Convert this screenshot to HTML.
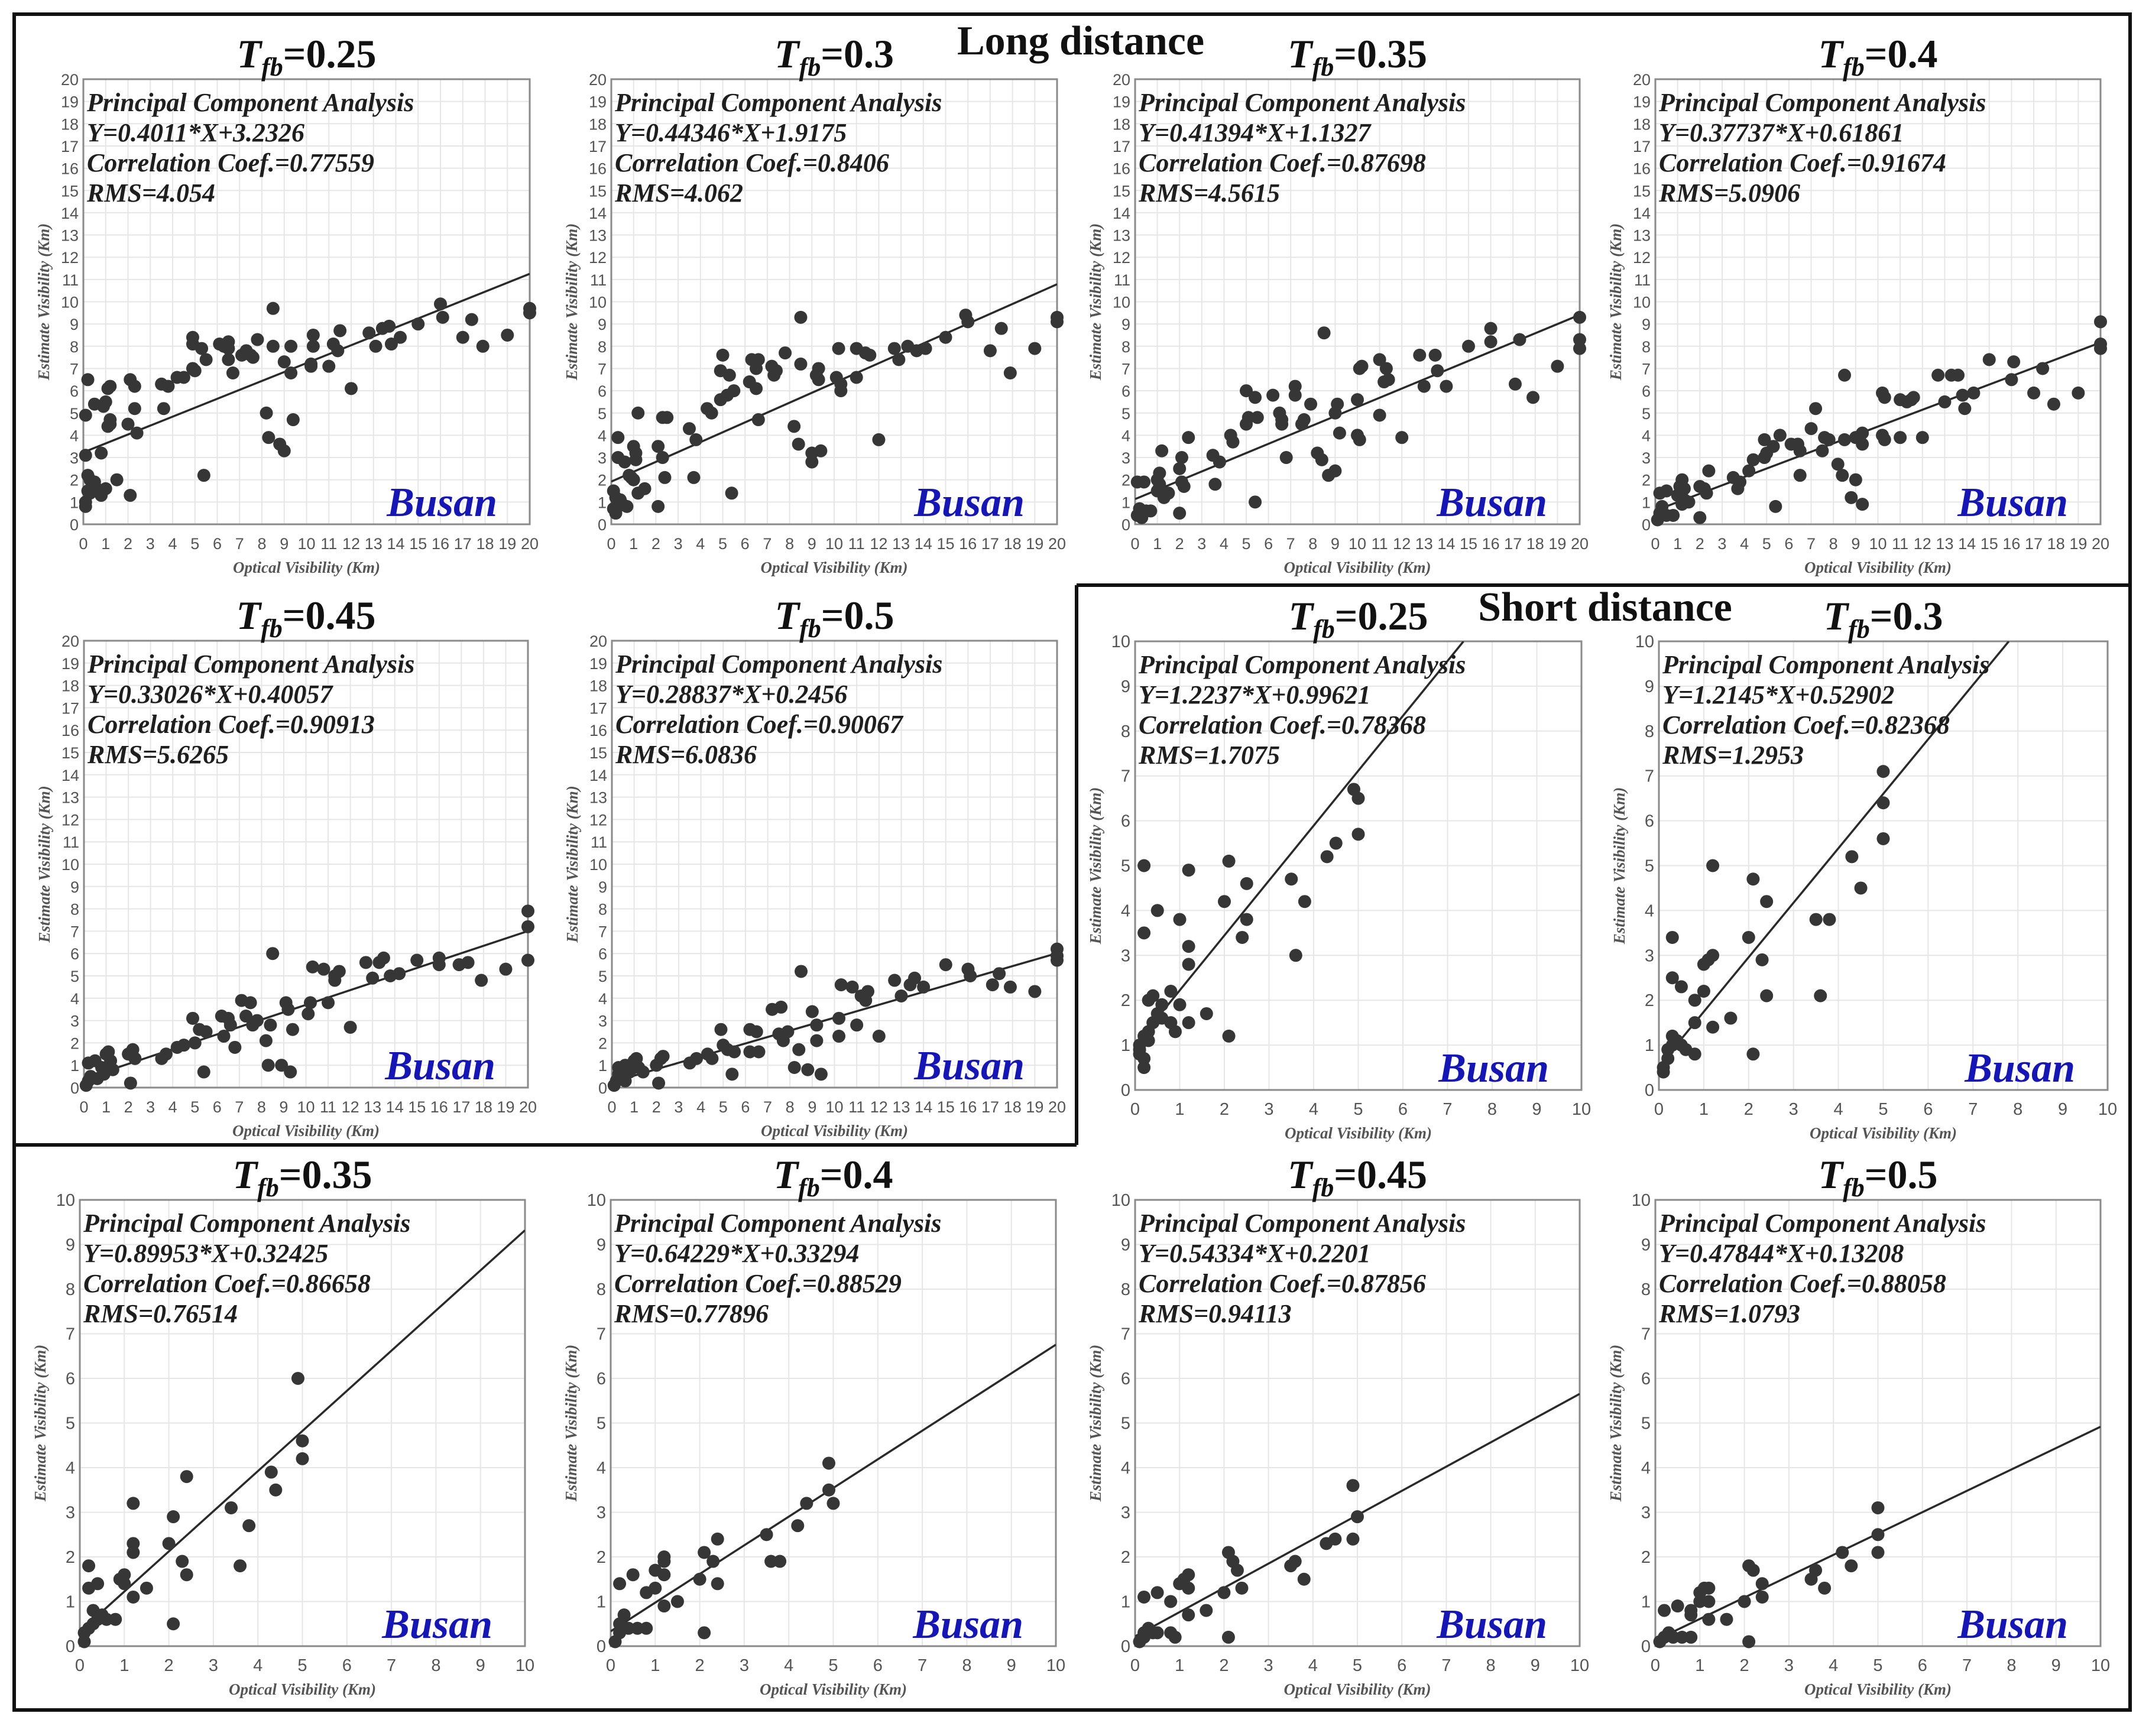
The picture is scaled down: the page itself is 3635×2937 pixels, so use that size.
<!DOCTYPE html>
<html><head><meta charset="utf-8"><title>Busan visibility PCA</title>
<style>html,body{margin:0;padding:0;background:#fff}svg{display:block}</style></head>
<body>
<svg id="fig" xmlns="http://www.w3.org/2000/svg" width="3635" height="2937" viewBox="0 0 3635 2937">
<rect x="0" y="0" width="3635" height="2937" fill="#fff"/>
<g id="frames" stroke="#111" stroke-width="6" fill="none">
<rect x="24" y="24" width="3579" height="2869"/>
<path d="M1821,990 L3603,990 M1821,990 L1821,1937 M24,1937 L1821,1937"/>
</g>
<text x="1828" y="92" text-anchor="middle" font-family="Liberation Serif, serif" font-weight="bold" font-size="70" fill="#111">Long distance</text>
<text x="2715" y="1050" text-anchor="middle" font-family="Liberation Serif, serif" font-weight="bold" font-size="70" fill="#111">Short distance</text>
<g id="panels"></g>
</svg>
<script>
// ---- data ----
const titlesTfb = ["0.25","0.3","0.35","0.4","0.45","0.5","0.25","0.3","0.35","0.4","0.45","0.5"];
const slopes = [0.4011,0.44346,0.41394,0.37737,0.33026,0.28837,1.2237,1.2145,0.89953,0.64229,0.54334,0.47844];
const intercepts = [3.2326,1.9175,1.1327,0.61861,0.40057,0.2456,0.99621,0.52902,0.32425,0.33294,0.2201,0.13208];
const eqTexts = ["Y=0.4011*X+3.2326","Y=0.44346*X+1.9175","Y=0.41394*X+1.1327","Y=0.37737*X+0.61861","Y=0.33026*X+0.40057","Y=0.28837*X+0.2456","Y=1.2237*X+0.99621","Y=1.2145*X+0.52902","Y=0.89953*X+0.32425","Y=0.64229*X+0.33294","Y=0.54334*X+0.2201","Y=0.47844*X+0.13208"];
const corrTexts = ["0.77559","0.8406","0.87698","0.91674","0.90913","0.90067","0.78368","0.82368","0.86658","0.88529","0.87856","0.88058"];
const rmsTexts = ["4.054","4.062","4.5615","5.0906","5.6265","6.0836","1.7075","1.2953","0.76514","0.77896","0.94113","1.0793"];
const axisMax = [20,20,20,20,20,20,10,10,10,10,10,10];

const ptsLong025 = [[0.2,6.5],[0.1,4.9],[0.5,5.4],[0.9,5.3],[1,5.5],[1.1,6.1],[1.2,6.2],[1.1,4.4],[1.2,4.7],[1.2,4.5],[2.0,4.5],[2.1,6.5],[2.3,6.2],[2.3,5.2],[2.4,4.1],[3.5,6.3],[3.8,6.2],[3.6,5.2],[4.2,6.6],[4.5,6.6],[4.9,8.4],[4.9,8.1],[5.3,7.9],[4.9,7.0],[5.0,6.9],[5.5,7.4],[6.1,8.1],[6.3,8.0],[6.5,8.2],[6.5,7.9],[6.5,7.4],[6.7,6.8],[7.1,7.6],[7.3,7.8],[7.5,7.6],[7.6,7.5],[7.8,8.3],[8.2,5.0],[8.3,3.9],[8.5,9.7],[8.5,8.0],[8.8,3.6],[9.0,3.3],[9.0,7.3],[9.3,8.0],[9.3,6.8],[9.4,4.7],[10.2,7.2],[10.2,7.1],[10.3,8.5],[10.3,8.0],[11.0,7.1],[11.2,8.1],[11.4,7.8],[11.5,8.7],[12.0,6.1],[12.8,8.6],[13.1,8.0],[13.4,8.8],[13.7,8.9],[13.8,8.1],[14.2,8.4],[15.0,9.0],[16.0,9.9],[16.1,9.3],[17.0,8.4],[17.4,9.2],[17.9,8.0],[19.0,8.5],[20.0,9.7],[20.0,9.5],[0.1,3.1],[0.2,2.2],[0.3,2.0],[0.4,1.8],[0.5,1.9],[0.6,1.6],[0.3,1.4],[0.1,1.0],[0.1,0.8],[0.2,1.5],[0.8,1.3],[1.0,1.6],[0.8,3.2],[1.5,2.0],[2.1,1.3],[5.4,2.2]];
const ptsLong03 = [[0.3,3.9],[0.3,3.0],[0.6,2.8],[1,3.5],[1.1,3.2],[1.1,2.9],[1.2,5.0],[0.8,2.2],[1.0,2.0],[0.9,2.1],[1.2,1.4],[1.5,1.6],[2.1,3.5],[2.3,4.8],[2.5,4.8],[2.3,3.0],[2.4,2.1],[2.1,0.8],[3.5,4.3],[3.8,3.8],[3.7,2.1],[4.3,5.2],[4.5,5.0],[5.0,7.6],[4.9,6.9],[5.3,6.7],[4.9,5.6],[5.2,5.8],[5.5,6.0],[5.4,1.4],[6.3,7.4],[6.6,7.4],[6.5,7.0],[6.2,6.4],[6.5,6.1],[6.6,4.7],[7.2,7.1],[7.4,6.9],[7.3,6.7],[7.8,7.7],[8.2,4.4],[8.4,3.6],[8.5,9.3],[8.5,7.2],[9.0,3.2],[9.0,2.8],[9.3,7.0],[9.2,6.7],[9.3,6.5],[9.4,3.3],[10.2,7.9],[10.1,6.6],[10.3,6.3],[10.3,6.0],[11.0,7.9],[11.0,6.6],[11.4,7.7],[11.6,7.6],[12.0,3.8],[12.7,7.9],[12.9,7.4],[13.3,8.0],[13.7,7.8],[14.1,7.9],[15.0,8.4],[15.9,9.4],[16.0,9.1],[17.0,7.8],[17.5,8.8],[17.9,6.8],[19.0,7.9],[20.0,9.3],[20.0,9.1],[0.1,1.5],[0.2,1.2],[0.3,1.0],[0.1,0.7],[0.2,0.5],[0.4,1.1],[0.5,0.9],[0.7,0.8],[0.3,0.8]];
const ptsLong035 = [[0.1,1.9],[0.4,1.9],[0.2,0.7],[0.1,0.4],[0.3,0.5],[0.5,0.6],[0.7,0.6],[0.3,0.3],[1.0,2.0],[1.1,2.3],[1.1,1.8],[1.2,3.3],[1.0,1.5],[1.3,1.2],[1.5,1.4],[2.0,2.5],[2.1,3.0],[2.1,1.9],[2.2,1.7],[2.4,3.9],[2.0,0.5],[3.5,3.1],[3.8,2.8],[3.6,1.8],[4.3,4.0],[4.4,3.7],[5.0,6.0],[5.0,4.5],[5.1,4.8],[5.4,5.7],[5.5,4.8],[5.4,1.0],[6.2,5.8],[6.5,5.0],[6.6,4.7],[6.6,4.5],[6.8,3.0],[7.2,6.2],[7.2,5.8],[7.6,4.7],[7.5,4.5],[7.9,5.4],[8.2,3.2],[8.5,8.6],[8.4,2.9],[8.7,2.2],[9.0,2.4],[9.0,5.0],[9.1,5.4],[9.2,4.1],[10.0,5.6],[10.0,4.0],[10.1,3.8],[10.1,7.0],[10.2,7.1],[11.0,7.4],[11.0,4.9],[11.2,6.4],[11.4,6.5],[11.3,7.0],[12.0,3.9],[12.8,7.6],[13.0,6.2],[13.5,7.6],[13.6,6.9],[14.0,6.2],[15.0,8.0],[16.0,8.8],[16.0,8.2],[17.1,6.3],[17.3,8.3],[17.9,5.7],[19.0,7.1],[20.0,9.3],[20.0,8.3],[20.0,7.9]];
const ptsLong04 = [[0.1,0.2],[0.2,0.5],[0.3,0.8],[0.2,1.4],[0.5,1.5],[0.5,0.4],[0.8,0.4],[1.0,1.3],[1.1,1.7],[1.2,2.0],[1.3,1.6],[1.3,1.1],[1.5,1.0],[1.2,0.9],[2.0,1.7],[2.2,1.6],[2.3,1.4],[2.4,2.4],[2.0,0.3],[3.5,2.1],[3.7,1.6],[3.8,1.9],[4.2,2.4],[4.4,2.9],[4.9,3.8],[4.9,3.0],[5.0,3.2],[5.3,3.5],[5.6,4.0],[5.4,0.8],[6.1,3.6],[6.4,3.6],[6.5,3.3],[6.5,2.2],[7.0,4.3],[7.2,5.2],[7.6,3.9],[7.8,3.8],[7.5,3.3],[8.2,2.7],[8.4,2.2],[8.5,6.7],[8.5,3.8],[8.8,1.2],[9.0,2.0],[9.0,3.9],[9.3,4.1],[9.3,3.6],[9.3,0.9],[10.2,4.0],[10.2,5.9],[10.3,5.7],[10.3,3.8],[11.0,5.6],[11.0,3.9],[11.3,5.5],[11.5,5.6],[11.6,5.7],[12.0,3.9],[12.7,6.7],[13.0,5.5],[13.3,6.7],[13.6,6.7],[13.8,5.8],[13.9,5.2],[14.3,5.9],[15.0,7.4],[16.0,6.5],[16.1,7.3],[17.0,5.9],[17.4,7.0],[17.9,5.4],[19.0,5.9],[20.0,9.1],[20.0,8.1],[20.0,7.9]];
const ptsLong045 = [[0.1,0.1],[0.2,0.3],[0.3,0.5],[0.2,1.1],[0.5,1.2],[0.6,0.4],[0.8,0.9],[1.0,1.5],[1.1,1.6],[1.2,1.2],[1.3,0.8],[0.9,0.6],[2.0,1.5],[2.2,1.7],[2.3,1.3],[2.1,0.2],[3.5,1.3],[3.7,1.5],[4.2,1.8],[4.5,1.9],[4.9,3.1],[5.0,2.0],[5.2,2.6],[5.5,2.5],[5.4,0.7],[6.2,3.2],[6.5,3.1],[6.3,2.3],[6.6,2.8],[6.8,1.8],[7.1,3.9],[7.5,3.8],[7.3,3.2],[7.6,2.8],[7.8,3.0],[8.2,2.1],[8.4,2.8],[8.5,6.0],[8.3,1.0],[8.9,1.0],[9.1,3.8],[9.2,3.5],[9.4,2.6],[9.3,0.7],[10.2,3.8],[10.1,3.3],[10.3,5.4],[10.8,5.3],[11.0,3.8],[11.3,5.0],[11.5,5.2],[11.3,4.8],[12.0,2.7],[12.7,5.6],[13.0,4.9],[13.3,5.6],[13.5,5.8],[13.8,5.0],[14.2,5.1],[15.0,5.7],[16.0,5.8],[16.0,5.5],[16.9,5.5],[17.3,5.6],[17.9,4.8],[19.0,5.3],[20.0,7.9],[20.0,7.2],[20.0,5.7]];
const ptsLong05 = [[0.1,0.1],[0.2,0.3],[0.3,0.6],[0.3,0.9],[0.6,1.0],[0.6,0.3],[0.8,0.7],[1.0,1.2],[1.1,1.3],[1.2,0.9],[1.4,0.7],[2.0,1.0],[2.2,1.3],[2.3,1.4],[2.1,0.2],[3.5,1.1],[3.8,1.3],[4.3,1.5],[4.5,1.3],[4.9,2.6],[5.0,1.9],[5.2,1.7],[5.5,1.6],[5.4,0.6],[6.2,2.6],[6.5,2.5],[6.2,1.6],[6.6,1.6],[7.2,3.5],[7.6,3.6],[7.5,2.4],[7.7,2.1],[7.9,2.5],[8.2,0.9],[8.4,1.7],[8.5,5.2],[8.8,0.8],[9.0,3.4],[9.2,2.8],[9.2,2.1],[9.4,0.6],[10.2,2.3],[10.2,3.1],[10.3,4.6],[10.8,4.5],[11.0,2.8],[11.2,4.1],[11.5,4.3],[11.4,3.9],[12.0,2.3],[12.7,4.8],[13.0,4.1],[13.4,4.6],[13.6,4.9],[14.0,4.5],[15.0,5.5],[16.0,5.3],[16.1,5.0],[17.1,4.6],[17.4,5.1],[17.9,4.5],[19.0,4.3],[20.0,6.2],[20.0,5.9],[20.0,5.7]];
const ptsShort025 = [[0.2,5.0],[0.2,3.5],[0.3,2.0],[0.4,2.1],[0.5,4.0],[0.1,1.0],[0.1,0.9],[0.1,0.8],[0.2,0.5],[0.2,1.2],[0.3,1.3],[0.3,1.1],[0.4,1.5],[0.5,1.7],[0.6,1.9],[0.6,1.6],[0.8,2.2],[0.8,1.5],[0.9,1.3],[1.0,1.9],[1.0,3.8],[1.2,3.2],[1.2,2.8],[1.2,4.9],[1.2,1.5],[1.6,1.7],[2.0,4.2],[2.1,5.1],[2.1,1.2],[2.4,3.4],[2.5,3.8],[2.5,4.6],[3.5,4.7],[3.6,3.0],[3.8,4.2],[4.3,5.2],[4.5,5.5],[4.9,6.7],[5.0,6.5],[5.0,5.7],[0.2,0.7]];
const ptsShort03 = [[0.3,3.4],[0.3,2.5],[0.5,2.3],[0.1,0.4],[0.1,0.5],[0.2,0.7],[0.2,0.9],[0.3,1.0],[0.4,1.1],[0.3,1.2],[0.5,1.0],[0.6,0.9],[0.8,0.8],[0.8,1.5],[0.8,2.0],[1.0,2.2],[1.0,2.8],[1.1,2.9],[1.2,3.0],[1.2,5.0],[1.2,1.4],[1.6,1.6],[2.0,3.4],[2.1,4.7],[2.1,0.8],[2.3,2.9],[2.4,4.2],[2.4,2.1],[3.5,3.8],[3.6,2.1],[3.8,3.8],[4.3,5.2],[4.5,4.5],[5.0,7.1],[5.0,6.4],[5.0,5.6]];
const ptsShort035 = [[0.2,1.8],[0.2,1.3],[0.4,1.4],[0.1,0.1],[0.1,0.3],[0.2,0.4],[0.3,0.5],[0.3,0.8],[0.4,0.6],[0.5,0.7],[0.6,0.6],[0.8,0.6],[0.9,1.5],[1.0,1.6],[1.0,1.4],[1.2,1.1],[1.2,2.3],[1.2,2.1],[1.2,3.2],[1.5,1.3],[2.0,2.3],[2.1,2.9],[2.1,0.5],[2.3,1.9],[2.4,1.6],[2.4,3.8],[3.4,3.1],[3.6,1.8],[3.8,2.7],[4.3,3.9],[4.4,3.5],[4.9,6.0],[5.0,4.6],[5.0,4.2]];
const ptsShort04 = [[0.1,0.1],[0.2,0.3],[0.2,0.5],[0.3,0.7],[0.2,1.4],[0.5,1.6],[0.4,0.4],[0.6,0.4],[0.8,0.4],[0.8,1.2],[1.0,1.3],[1.0,1.7],[1.2,2.0],[1.2,1.9],[1.2,0.9],[1.2,1.6],[1.5,1.0],[2.0,1.5],[2.1,2.1],[2.3,1.9],[2.4,1.4],[2.4,2.4],[2.1,0.3],[3.5,2.5],[3.6,1.9],[3.8,1.9],[4.2,2.7],[4.4,3.2],[4.9,4.1],[4.9,3.5],[5.0,3.2]];
const ptsShort045 = [[0.1,0.1],[0.2,0.2],[0.2,0.3],[0.3,0.4],[0.2,1.1],[0.5,1.2],[0.4,0.3],[0.5,0.3],[0.8,0.3],[0.8,1.0],[0.9,0.2],[1.0,1.4],[1.1,1.5],[1.2,1.3],[1.2,1.6],[1.2,0.7],[1.6,0.8],[2.0,1.2],[2.1,2.1],[2.2,1.9],[2.3,1.7],[2.4,1.3],[2.1,0.2],[3.5,1.8],[3.6,1.9],[3.8,1.5],[4.3,2.3],[4.5,2.4],[4.9,3.6],[5.0,2.9],[4.9,2.4]];
const ptsShort05 = [[0.1,0.1],[0.2,0.2],[0.3,0.3],[0.2,0.8],[0.5,0.9],[0.4,0.2],[0.6,0.2],[0.8,0.2],[0.8,0.7],[0.8,0.8],[1.0,1.0],[1.0,1.2],[1.1,1.3],[1.2,1.0],[1.2,0.6],[1.2,1.3],[1.6,0.6],[2.0,1.0],[2.1,1.8],[2.2,1.7],[2.4,1.4],[2.4,1.1],[2.1,0.1],[3.5,1.5],[3.6,1.7],[3.8,1.3],[4.2,2.1],[4.4,1.8],[5.0,3.1],[5.0,2.5],[5.0,2.1]];
const allPoints = [ptsLong025,ptsLong03,ptsLong035,ptsLong04,ptsLong045,ptsLong05,ptsShort025,ptsShort03,ptsShort035,ptsShort04,ptsShort045,ptsShort05];
const panelNames = ["long-0.25","long-0.3","long-0.35","long-0.4","long-0.45","long-0.5","short-0.25","short-0.3","short-0.35","short-0.4","short-0.45","short-0.5"];

// ---- layout (pixel boxes: left, top, right, bottom) ----
const boxes = [
 [141,134,896,887],[1034,134,1788,887],[1920,134,2672,887],[2800,134,3553,887],
 [142,1084,893,1840],[1035,1084,1788,1840],[1920,1085,2675,1844],[2806,1085,3565,1844],
 [135,2030,888,2785],[1033,2030,1786,2785],[1920,2030,2672,2785],[2800,2030,3553,2785]
];

const NS = "http://www.w3.org/2000/svg";
const root = document.getElementById("panels");
function mk(tag, attrs, parent, txt){
  const e = document.createElementNS(NS, tag);
  for (const k in attrs) e.setAttribute(k, attrs[k]);
  if (txt !== undefined) e.textContent = txt;
  parent.appendChild(e);
  return e;
}

for (let p = 0; p < boxes.length; p++){
  const [L,T,R,B] = boxes[p];
  const max = axisMax[p];
  const sx = v => L + (R - L) * v / max;
  const sy = v => B - (B - T) * v / max;
  const g = mk("g", {}, root);
  
  
  const clipId = "clip" + p;
  const cp = mk("clipPath", {id: clipId}, g);
  mk("rect", {x: L - 12, y: T, width: R - L + 24, height: B - T + 12}, cp);
  const clipLineId = "clipl" + p;
  const cpl = mk("clipPath", {id: clipLineId}, g);
  mk("rect", {x: L, y: T, width: R - L, height: B - T}, cpl);

  // grid
  const grid = mk("g", {stroke: "#e6e6e6", "stroke-width": 2}, g);
  
  
  for (let i = 0; i <= max; i++){
    mk("line", {x1: sx(i), x2: sx(i), y1: T, y2: B}, grid);
    mk("line", {x1: L, x2: R, y1: sy(i), y2: sy(i)}, grid);
  }
  const frame = mk("rect", {x: L, y: T, width: R - L, height: B - T, fill: "none", stroke: "#8a8a8a", "stroke-width": 3}, g);
  
  

  // ticks
  const fs = max === 20 ? 27 : 29;
  const xt = mk("g", {"font-family": "Liberation Sans, sans-serif", "font-size": fs, fill: "#555", "text-anchor": "middle"}, g);
  
  
  const yt = mk("g", {"font-family": "Liberation Sans, sans-serif", "font-size": fs, fill: "#555", "text-anchor": "end"}, g);
  
  
  for (let i = 0; i <= max; i++){
    mk("text", {x: sx(i), y: B + 42}, xt, String(i));
    mk("text", {x: L - 8, y: sy(i) + 10}, yt, String(i));
  }
  const xl = mk("text", {x: (L + R) / 2, y: B + 82, "text-anchor": "middle", "font-family": "Liberation Serif, serif", "font-weight": "bold", "font-style": "italic", "font-size": 27, fill: "#555"}, g, "Optical Visibility (Km)");
  
  
  const yx = L - 58, yy = (T + B) / 2;
  const yl = mk("text", {x: yx, y: yy, transform: "rotate(-90 " + yx + " " + yy + ")", "text-anchor": "middle", "font-family": "Liberation Serif, serif", "font-weight": "bold", "font-style": "italic", "font-size": 27, fill: "#555"}, g, "Estimate Visibility (Km)");
  
  

  // title
  const tt = mk("text", {x: (L + R) / 2, y: T - 20, "text-anchor": "middle", "font-family": "Liberation Serif, serif", "font-weight": "bold", "font-size": 68, fill: "#111"}, g);
  
  
  mk("tspan", {"font-style": "italic"}, tt, "T");
  mk("tspan", {"font-style": "italic", "font-size": 44, dy: 14}, tt, "fb");
  mk("tspan", {dy: -14}, tt, "=" + titlesTfb[p]);

  // regression line
  const m = slopes[p], b = intercepts[p];
  let xEnd = max;
  if (m * max + b > max) xEnd = (max - b) / m;
  const ln = mk("line", {x1: sx(0), y1: sy(b), x2: sx(xEnd), y2: sy(m * xEnd + b), stroke: "#2a2a2a", "stroke-width": 3.5, "clip-path": "url(#" + clipLineId + ")"}, g);
  
  

  // points
  const pg = mk("g", {fill: "#363636", "clip-path": "url(#" + clipId + ")"}, g);
  
  
  for (const pt of allPoints[p]){
    const c = mk("circle", {cx: sx(pt[0]), cy: sy(pt[1]), r: 11}, pg);
    
    
  }

  // annotation
  const lines = ["Principal Component Analysis", eqTexts[p], "Correlation Coef.=" + corrTexts[p], "RMS=" + rmsTexts[p]];
  const ag = mk("g", {"font-family": "Liberation Serif, serif", "font-weight": "bold", "font-style": "italic", "font-size": 44, fill: "#1e1e1e"}, g);
  
  
  for (let i = 0; i < lines.length; i++){
    mk("text", {x: L + 6, y: T + 54 + 51 * i}, ag, lines[i]);
  }

  // Busan label
  const bu = mk("text", {x: R - 55, y: B - 14, "text-anchor": "end", "font-family": "Liberation Serif, serif", "font-weight": "bold", "font-style": "italic", "font-size": 70, fill: "#1616b4"}, g, "Busan");
  
  
}
</script>
</body></html>
